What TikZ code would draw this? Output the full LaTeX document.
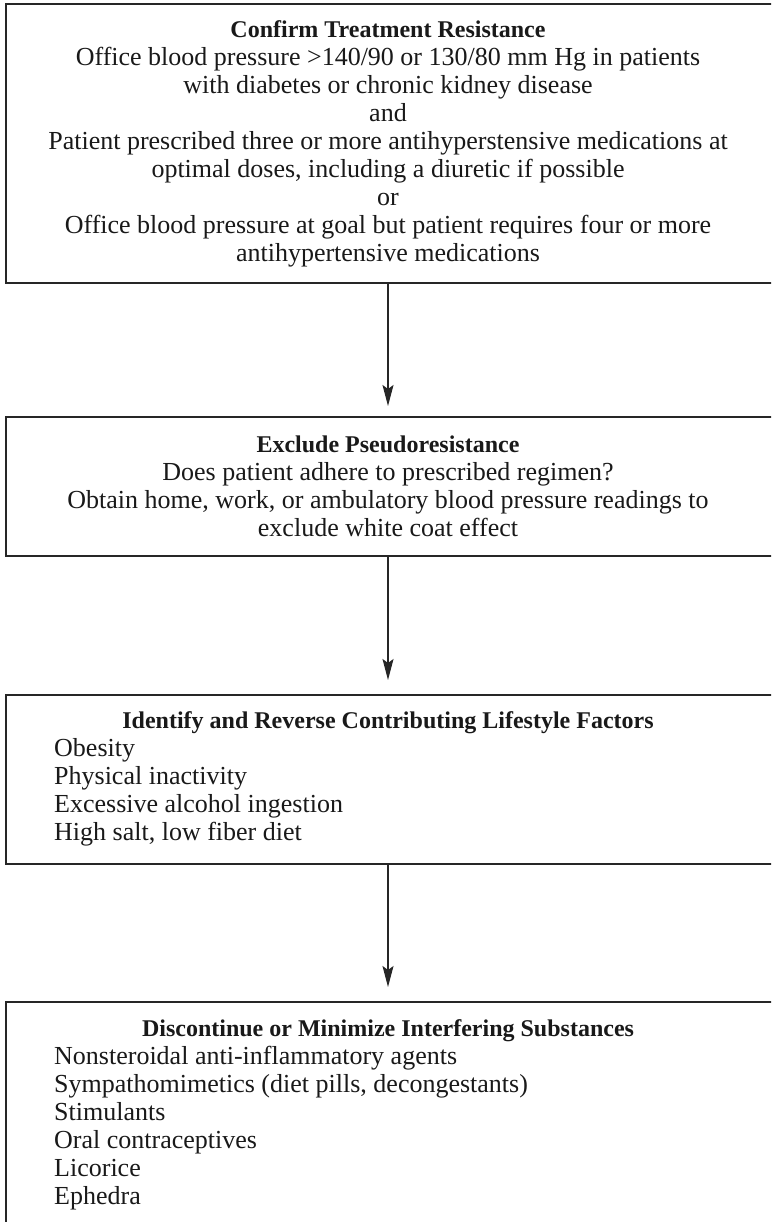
\documentclass[tikz,border=0pt]{standalone}
\usepackage{fontspec}
\setmainfont{Liberation Serif}
\usetikzlibrary{arrows.meta}
\begin{document}
\begin{tikzpicture}[x=1pt,y=-1pt,
  box/.style={draw=black!85, line width=1.3pt, rectangle, outer sep=0pt,
    inner sep=0pt, anchor=north west},
  head/.style={anchor=base, inner sep=0pt, text=black!90,
    font=\fontsize{24}{28}\selectfont\bfseries},
  ctr/.style={anchor=base, inner sep=0pt, text=black!90,
    font=\fontsize{26}{28}\selectfont},
  item/.style={anchor=base west, inner sep=0pt, text=black!90,
    font=\fontsize{26}{28}\selectfont},
  flow/.style={draw=black!85, line width=1.3pt,
    -{Stealth[length=21pt,width=11pt,inset=4pt]}}
]
\path[clip] (0,0) rectangle (771,1222);
\fill[white] (0,0) rectangle (771,1222);

% axis of the flow arrows
\coordinate (ax) at (388,0);

% boxes (right and lower edges run off the page)
\node[box, minimum width=767pt, minimum height=279pt] (b1) at (6,4) {};
\node[box, minimum width=767pt, minimum height=139pt] (b2) at (6,417) {};
\node[box, minimum width=767pt, minimum height=169pt] (b3) at (6,695) {};
\node[box, minimum width=767pt, minimum height=240pt] (b4) at (6,1002) {};

% box 1
\node[head] (t1h) at (388,37.5) {Confirm Treatment Resistance};
\node[ctr] (t1a) at (388,66) {Office blood pressure >140/90 or 130/80 mm Hg in patients};
\node[ctr] (t1b) at (388,94) {with diabetes or chronic kidney disease};
\node[ctr] (t1c) at (388,122) {and};
\node[ctr] (t1d) at (388,150) {Patient prescribed three or more antihyperstensive medications at};
\node[ctr] (t1e) at (388,178) {optimal doses, including a diuretic if possible};
\node[ctr] (t1f) at (388,206) {or};
\node[ctr] (t1g) at (388,234) {Office blood pressure at goal but patient requires four or more};
\node[ctr] (t1i) at (388,262) {antihypertensive medications};

% box 2
\node[head] (t2h) at (388,452) {Exclude Pseudoresistance};
\node[ctr] (t2a) at (388,480) {Does patient adhere to prescribed regimen?};
\node[ctr] (t2b) at (388,508) {Obtain home, work, or ambulatory blood pressure readings to};
\node[ctr] (t2c) at (388,536) {exclude white coat effect};

% box 3
\node[head] (t3h) at (388,728) {Identify and Reverse Contributing Lifestyle Factors};
\node[item] (t3a) at (54,756) {Obesity};
\node[item] (t3b) at (54,784) {Physical inactivity};
\node[item] (t3c) at (54,812) {Excessive alcohol ingestion};
\node[item] (t3d) at (54,840) {High salt, low fiber diet};

% box 4
\node[head] (t4h) at (388,1036) {Discontinue or Minimize Interfering Substances};
\node[item] (t4a) at (54,1064) {Nonsteroidal anti-inflammatory agents};
\node[item] (t4b) at (54,1092) {Sympathomimetics (diet pills, decongestants)};
\node[item] (t4c) at (54,1120) {Stimulants};
\node[item] (t4d) at (54,1148) {Oral contraceptives};
\node[item] (t4e) at (54,1176) {Licorice};
\node[item] (t4f) at (54,1204) {Ephedra};

% connectors
\draw[flow, shorten >=11pt] (b1.south -| ax) -- (b2.north -| ax);
\draw[flow, shorten >=15pt] (b2.south -| ax) -- (b3.north -| ax);
\draw[flow, shorten >=15pt] (b3.south -| ax) -- (b4.north -| ax);
\end{tikzpicture}
\end{document}
